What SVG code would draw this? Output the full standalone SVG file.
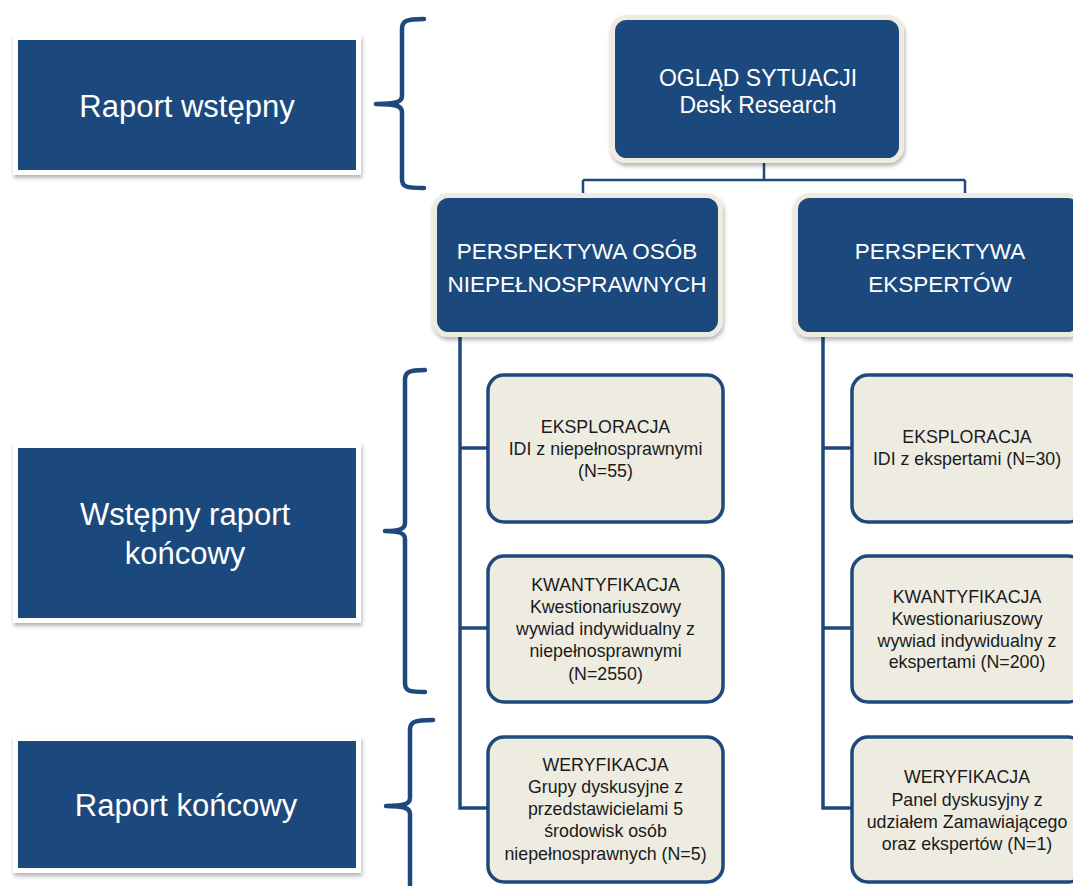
<svg xmlns="http://www.w3.org/2000/svg" width="1073" height="886" viewBox="0 0 1073 886">
<defs>
<filter id="sh" x="-10%" y="-10%" width="125%" height="130%">
<feDropShadow dx="1" dy="3" stdDeviation="2" flood-color="#000" flood-opacity="0.3"/>
</filter>
<style>
.rep{fill:#1F497D;stroke:#fff;stroke-width:5;filter:url(#sh)}
.main{fill:#1F497D;stroke:#EEECE1;stroke-width:5;filter:url(#sh)}
.sub{fill:#EEECE1;stroke:#1F497D;stroke-width:3.5}
.wt{font-family:"Liberation Sans",Arial,sans-serif;fill:#fff;text-anchor:middle}
.dt{font-family:"Liberation Sans",Arial,sans-serif;fill:#1a1a1a;text-anchor:middle;font-size:17.8px}
.br{fill:none;stroke:#1F497D;stroke-width:4.5;stroke-linecap:round;stroke-linejoin:round}
.cn{fill:none;stroke:#1F497D;stroke-width:3.5}
.cn2{fill:none;stroke:#1F497D;stroke-width:2.5}
</style>
</defs>
<rect width="1073" height="886" fill="#fff"/>

<g id="connectors">
<path class="cn2" d="M764,160 V180 M583,180 H965 M583,180 V196 M965,180 V196"/>
<path class="cn" d="M460,335 V808 H488 M460,448 H488 M460,628 H488"/>
<path class="cn" d="M823,335 V808 H852 M823,448 H852 M823,628 H852"/>
</g>

<g id="brackets">
<path class="br" d="M424,19 C406,19 402,21 402,29 V96 C402,102 396,104 376,104 C396,104 402,106 402,112 V179 C402,187 406,188 424,188"/>
<path class="br" d="M425,370 C409,370 405,372 405,380 V523 C405,529 399,531 385,531 C399,531 405,533 405,539 V683 C405,691 409,692 425,692"/>
<path class="br" d="M433,720 C414,720 410,722 410,730 V798 C410,804 404,806 386,806 C404,806 410,808 410,814 V892"/>
</g>

<g id="raport-wstepny">
<rect class="rep" x="15.5" y="37.5" width="343" height="135"/>
<text class="wt" x="187" y="117" font-size="31">Raport wstępny</text>
</g>
<g id="wstepny-raport-koncowy">
<rect class="rep" x="15.5" y="445.5" width="343" height="175"/>
<text class="wt" x="185" y="525" font-size="31">Wstępny raport</text>
<text class="wt" x="185" y="564" font-size="31">końcowy</text>
</g>
<g id="raport-koncowy">
<rect class="rep" x="15.5" y="738.5" width="343" height="132"/>
<text class="wt" x="186" y="816" font-size="31">Raport końcowy</text>
</g>

<g id="oglad">
<rect class="main" x="612.5" y="17.5" width="289" height="143" rx="14"/>
<text class="wt" x="758" y="86" font-size="23">OGLĄD SYTUACJI</text>
<text class="wt" x="758" y="113" font-size="23">Desk Research</text>
</g>
<g id="perspektywa-osob">
<rect class="main" x="434.5" y="195.5" width="286" height="139" rx="14"/>
<text class="wt" x="577" y="259" font-size="22.5">PERSPEKTYWA OSÓB</text>
<text class="wt" x="577" y="292" font-size="22.5">NIEPEŁNOSPRAWNYCH</text>
</g>
<g id="perspektywa-ekspertow">
<rect class="main" x="795.5" y="195.5" width="286" height="139" rx="14"/>
<text class="wt" x="940" y="259" font-size="22.5">PERSPEKTYWA</text>
<text class="wt" x="940" y="292" font-size="22.5">EKSPERTÓW</text>
</g>

<g id="eksploracja-osob">
<rect class="sub" x="488" y="375" width="235" height="147" rx="16"/>
<text class="dt" x="605.5" y="433">EKSPLORACJA</text>
<text class="dt" x="605.5" y="455">IDI z niepełnosprawnymi</text>
<text class="dt" x="605.5" y="477">(N=55)</text>
</g>
<g id="kwantyfikacja-osob">
<rect class="sub" x="488" y="556" width="235" height="146" rx="16"/>
<text class="dt" x="605.5" y="591">KWANTYFIKACJA</text>
<text class="dt" x="605.5" y="613">Kwestionariuszowy</text>
<text class="dt" x="605.5" y="635">wywiad indywidualny z</text>
<text class="dt" x="605.5" y="657">niepełnosprawnymi</text>
<text class="dt" x="605.5" y="680">(N=2550)</text>
</g>
<g id="weryfikacja-osob">
<rect class="sub" x="488" y="737" width="235" height="145" rx="16"/>
<text class="dt" x="605.5" y="771">WERYFIKACJA</text>
<text class="dt" x="605.5" y="793">Grupy dyskusyjne z</text>
<text class="dt" x="605.5" y="815">przedstawicielami 5</text>
<text class="dt" x="605.5" y="837">środowisk osób</text>
<text class="dt" x="605.5" y="860">niepełnosprawnych (N=5)</text>
</g>

<g id="eksploracja-ekspertow">
<rect class="sub" x="852" y="375" width="232" height="147" rx="16"/>
<text class="dt" x="967" y="443">EKSPLORACJA</text>
<text class="dt" x="967" y="465">IDI z ekspertami (N=30)</text>
</g>
<g id="kwantyfikacja-ekspertow">
<rect class="sub" x="852" y="556" width="232" height="146" rx="16"/>
<text class="dt" x="967" y="603">KWANTYFIKACJA</text>
<text class="dt" x="967" y="625">Kwestionariuszowy</text>
<text class="dt" x="967" y="647">wywiad indywidualny z</text>
<text class="dt" x="967" y="668">ekspertami (N=200)</text>
</g>
<g id="weryfikacja-ekspertow">
<rect class="sub" x="852" y="737" width="232" height="145" rx="16"/>
<text class="dt" x="967" y="783">WERYFIKACJA</text>
<text class="dt" x="967" y="806">Panel dyskusyjny z</text>
<text class="dt" x="967" y="828">udziałem Zamawiającego</text>
<text class="dt" x="967" y="850">oraz ekspertów (N=1)</text>
</g>
</svg>
